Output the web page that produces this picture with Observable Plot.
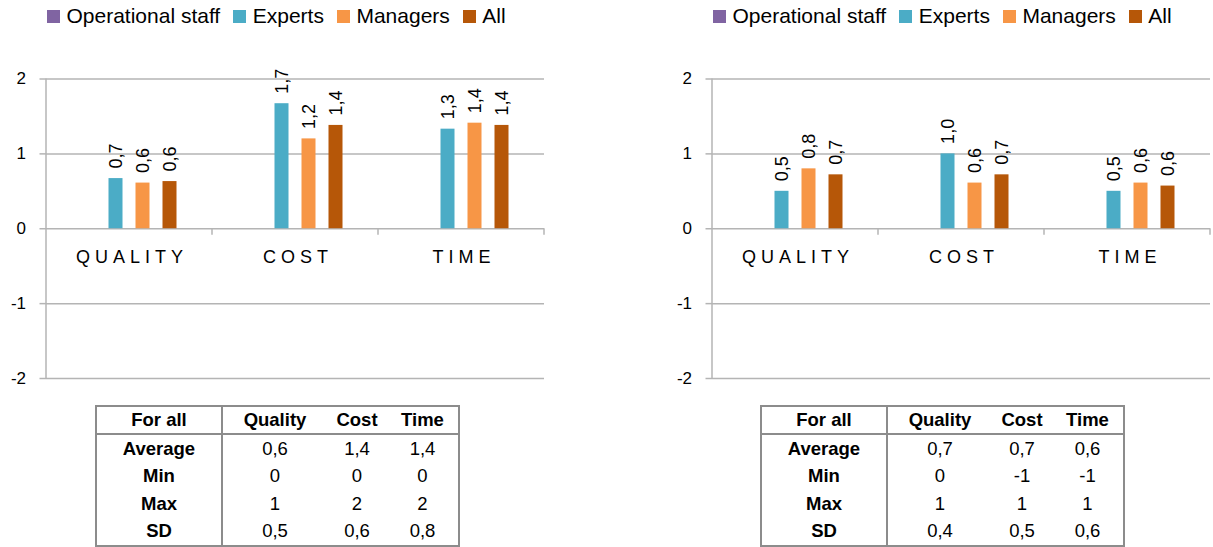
<!DOCTYPE html>
<html>
<head>
<meta charset="utf-8">
<script src="https://cdn.jsdelivr.net/npm/d3@7"></script>
<script src="https://cdn.jsdelivr.net/npm/@observablehq/plot@0.6"></script>
<style>
  html, body { margin: 0; padding: 0; background: #fff; width: 1213px; height: 547px; overflow: hidden; color: #000;
    font-family: "Liberation Sans", Arial, sans-serif; }
  .legend { position: absolute; top: 3px; display: flex; white-space: nowrap; font-size: 21px; line-height: 26px; }
  .legend .item { display: flex; align-items: baseline; margin-right: 13px; }
  .legend .sw { display: inline-block; width: 13px; height: 13px; margin-right: 6.5px; }
  .chart { position: absolute; top: 40px; }
  table.stats { position: absolute; top: 405px; box-sizing: border-box; width: 365px; table-layout: fixed;
    border-collapse: separate; border-spacing: 0; border: 2px solid #8c8c8c; font-size: 18.5px; }
  table.stats th, table.stats td { padding: 0; text-align: center; box-sizing: border-box; }
  table.stats th { height: 28px; font-weight: bold; border-bottom: 2px solid #8c8c8c; }
  table.stats td { height: 27.5px; font-weight: normal; }
  table.stats td.lab { font-weight: bold; }
  table.stats .c0 { border-right: 2px solid #8c8c8c; }
</style>
</head>
<body>
<div id="root"></div>
<script>
// ---------- data ----------
const categories = ["QUALITY", "COST", "TIME"];
const series = ["Operational staff", "Experts", "Managers", "All"];
const seriesColors = ["#8064a2", "#4bacc6", "#f79646", "#b65708"];

// left chart (values per category, in the order of `categories`)
const leftOperational = [null, null, null];
const leftExperts     = [0.67, 1.67, 1.33];
const leftManagers    = [0.61, 1.20, 1.41];
const leftAll         = [0.63, 1.38, 1.38];

// right chart
const rightOperational = [null, null, null];
const rightExperts     = [0.50, 1.00, 0.50];
const rightManagers    = [0.80, 0.61, 0.61];
const rightAll         = [0.72, 0.72, 0.57];

const yTicks = [-2, -1, 0, 1, 2];

// tables
const tableHeader = ["For all", "Quality", "Cost", "Time"];
const rowLabels = ["Average", "Min", "Max", "SD"];
const leftStats  = [["0,6", "1,4", "1,4"], ["0", "0", "0"], ["1", "2", "2"], ["0,5", "0,6", "0,8"]];
const rightStats = [["0,7", "0,7", "0,6"], ["0", "-1", "-1"], ["1", "1", "1"], ["0,4", "0,5", "0,6"]];

// ---------- helpers ----------
const FONT = '"Liberation Sans", Arial, sans-serif';
const GRID = "#b4b4b4";
const fmt = v => d3.format(".1f")(v).replace(".", ",");

function buildRows(seriesValues) {
  const rows = [];
  categories.forEach((c, i) => {
    series.forEach((s, j) => {
      const v = seriesValues[j][i];
      if (v != null) rows.push({category: c, series: s, value: v});
    });
  });
  return rows;
}

function decoration() {
  // left axis line (first facet) and category divider stubs below zero
  return Plot.ruleY(categories, {
    fx: d => d, y: () => 0, stroke: GRID, strokeWidth: 1.5,
    render(index, scales, values, dims) {
      const g = d3.create("svg:g").attr("stroke", GRID).attr("stroke-width", 1.5);
      const xl = dims.marginLeft, xr = dims.width - dims.marginRight;
      const y0 = scales.y(0);
      for (const i of index) {
        g.append("line").attr("x1", xr).attr("x2", xr).attr("y1", y0).attr("y2", y0 + 6.5);
        if (i === 0) {
          g.append("line").attr("x1", xl).attr("x2", xl)
            .attr("y1", scales.y(d3.max(yTicks))).attr("y2", scales.y(d3.min(yTicks)));
        }
      }
      return g.node();
    }
  });
}

function spaced(ls) {
  return (index, scales, values, dims, context, next) => {
    const g = next(index, scales, values, dims, context);
    if (g) g.setAttribute("letter-spacing", ls);
    return g;
  };
}

function makeChart(rows, width, marginRight) {
  return Plot.plot({
    width, height: 350,
    marginTop: 38.5, marginBottom: 12, marginLeft: 45.5, marginRight,
    style: {fontFamily: FONT, fontSize: "17px", background: "white", overflow: "visible", color: "#000"},
    fx: {domain: categories, padding: 0, axis: null},
    x: {domain: series, paddingInner: 0.47, paddingOuter: 1.2, axis: null},
    y: {domain: [d3.min(yTicks), d3.max(yTicks)], axis: null},
    color: {domain: series, range: seriesColors},
    marks: [
      Plot.ruleY(yTicks, {stroke: GRID, strokeWidth: 1.5}),
      decoration(),
      Plot.axisY(yTicks, {tickSize: 6.5, stroke: GRID, strokeWidth: 1.5, tickFormat: () => "", label: null}),
      Plot.axisY(yTicks, {tickSize: 0, tickPadding: 20.5, tickFormat: d => String(d), fontSize: 17, fill: "#000", label: null}),
      Plot.barY(rows, {fx: "category", x: "series", y: "value", fill: "series"}),
      Plot.text(rows, {fx: "category", x: "series", y: "value", text: d => fmt(d.value),
        rotate: -90, textAnchor: "start", dy: -10, fontSize: 18, fill: "#000"}),
      Plot.text(categories, {fx: d => d, y: () => 0, text: d => d, dy: 28, dx: 2.5,
        fontSize: 18, fill: "#000", render: spaced("5")})
    ]
  });
}

function makeLegend(left) {
  const lg = document.createElement("div");
  lg.className = "legend";
  lg.style.left = left + "px";
  series.forEach((s, j) => {
    const it = document.createElement("span");
    it.className = "item";
    const sw = document.createElement("span");
    sw.className = "sw";
    sw.style.background = seriesColors[j];
    it.appendChild(sw);
    it.appendChild(document.createTextNode(s));
    lg.appendChild(it);
  });
  return lg;
}

function makeTable(stats, left) {
  const t = document.createElement("table");
  t.className = "stats";
  t.style.left = left + "px";
  const cg = document.createElement("colgroup");
  [126, 104, 60, 71].forEach(w => { const c = document.createElement("col"); c.style.width = w + "px"; cg.appendChild(c); });
  t.appendChild(cg);
  const hr = document.createElement("tr");
  tableHeader.forEach((h, k) => {
    const th = document.createElement("th");
    th.textContent = h;
    if (k === 0) th.className = "c0";
    hr.appendChild(th);
  });
  t.appendChild(hr);
  rowLabels.forEach((lab, r) => {
    const tr = document.createElement("tr");
    const td0 = document.createElement("td");
    td0.className = "lab c0";
    td0.textContent = lab;
    tr.appendChild(td0);
    stats[r].forEach(v => {
      const td = document.createElement("td");
      td.textContent = v;
      tr.appendChild(td);
    });
    t.appendChild(tr);
  });
  return t;
}

const root = document.getElementById("root");
const panels = [
  {vals: [leftOperational, leftExperts, leftManagers, leftAll], stats: leftStats,
   svgLeft: 0, width: 575, marginRight: 30, legendLeft: 47, tableLeft: 95},
  {vals: [rightOperational, rightExperts, rightManagers, rightAll], stats: rightStats,
   svgLeft: 666, width: 547, marginRight: 3, legendLeft: 713, tableLeft: 760}
];

panels.forEach(p => {
  root.appendChild(makeLegend(p.legendLeft));
  const wrap = document.createElement("div");
  wrap.className = "chart";
  wrap.style.left = p.svgLeft + "px";
  wrap.appendChild(makeChart(buildRows(p.vals), p.width, p.marginRight));
  root.appendChild(wrap);
  root.appendChild(makeTable(p.stats, p.tableLeft));
});
</script>
</body>
</html>
